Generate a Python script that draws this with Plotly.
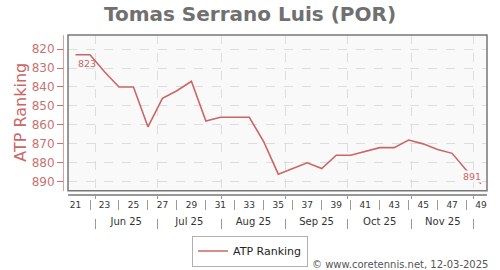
import plotly.graph_objects as go
import pandas as pd

# ---- data ----
weeks = list(range(21, 50))
ranks = [823, 823, 832, 840, 840, 861, 846, 842, 837, 858, 856, 856, 856, 869, 886,
         883, 880, 883, 876, 876, 874, 872, 872, 868, 870, 873, 875, 884, 891]
week_labels = [str(w) for w in range(21, 50, 2)]
week_label_vals = list(range(21, 50, 2))
week_sep_vals = list(range(22, 49, 2))
month_starts = ["2025-06-01", "2025-07-01", "2025-08-01", "2025-09-01",
                "2025-10-01", "2025-11-01", "2025-12-01"]
month_labels = ["Jun 25", "Jul 25", "Aug 25", "Sep 25", "Oct 25", "Nov 25"]
series_name = "ATP Ranking"
title = "Tomas Serrano Luis (POR)"
credit = "© www.coretennis.net, 12-03-2025"

# week position of a calendar date (week 21 of 2025 starts Mon 2025-05-19)
w21 = pd.Timestamp("2025-05-19")
month_pos = [21 + (pd.Timestamp(d) - w21).days / 7 - 0.5 for d in month_starts]
month_mid = [(a + b) / 2 for a, b in zip(month_pos[:-1], month_pos[1:])]

W, H = 500, 270
px = lambda v: v / W
py = lambda v: 1 - v / H

ROSE = "#cc6666"
TICKROSE = "#c97272"
FONT = "DejaVu Sans"
XR = [20.48, 49.41]
YR = [894.7, 812.6]
xdom = [px(68), px(487)]
ydom = [py(190.7), py(35)]

fig = go.Figure()
fig.add_trace(go.Scatter(x=weeks, y=ranks, mode="lines", name=series_name,
                         line=dict(color=ROSE, width=1.6), xaxis="x", yaxis="y"))
# invisible carriers so the secondary label axes get drawn
for ax in ("x2", "x3", "x4", "x5"):
    fig.add_trace(go.Scatter(x=weeks[:1], y=ranks[:1], mode="markers", xaxis=ax, yaxis="y",
                             marker=dict(opacity=0), showlegend=False, hoverinfo="skip"))

label_axis = dict(domain=xdom, range=XR, overlaying="x", anchor="free", ticks="",
                  tickfont=dict(size=9, color="#333"), showgrid=False, showline=False, zeroline=False)
sep_axis = dict(domain=xdom, range=XR, overlaying="x", anchor="free", ticks="outside", ticklen=10,
                tickcolor="#999", showticklabels=False, showgrid=False, showline=False, zeroline=False)

fig.update_layout(
    width=W, height=H, margin=dict(l=0, r=0, t=0, b=0),
    paper_bgcolor="white", plot_bgcolor="#f9f9f9",
    font=dict(family=FONT),
    title=dict(text="<b>" + title + "</b>", x=0.5, xanchor="center", y=py(14), yanchor="middle",
               font=dict(family=FONT, size=20, color="#707070")),
    showlegend=True,
    legend=dict(orientation="h", x=0.5, xanchor="center", y=py(235.5), yanchor="top",
                bordercolor="#b0b0b0", borderwidth=1, font=dict(size=11, color="#222"),
                bgcolor="white", itemwidth=30),
    xaxis=dict(domain=xdom, range=XR, anchor="free", position=py(195),
               tickvals=month_pos, ticks="outside", ticklen=3, tickcolor="#999",
               showticklabels=False, showline=True, linecolor="#999", linewidth=1.5,
               showgrid=True, gridcolor="#dddddd", griddash="dash", gridwidth=1,
               zeroline=False),
    xaxis2=dict(label_axis, position=py(198), tickvals=week_label_vals, ticktext=week_labels),
    xaxis4=dict(sep_axis, position=py(199), tickvals=week_sep_vals),
    xaxis3=dict(label_axis, position=py(214), tickvals=month_mid, ticktext=month_labels,
                tickfont=dict(size=10, color="#333")),
    xaxis5=dict(sep_axis, position=py(217.7), tickvals=month_pos),
    yaxis=dict(domain=ydom, range=YR, anchor="free", position=px(63),
               tickvals=list(range(820, 891, 10)), ticks="outside", ticklen=6, tickcolor=TICKROSE,
               tickfont=dict(size=12, color=TICKROSE), showline=True, linecolor="#dba0a0", linewidth=1,
               showgrid=True, gridcolor="#dddddd", griddash="dash", gridwidth=1, zeroline=False),
)

# plot frame
fig.add_shape(type="rect", xref="paper", yref="paper", x0=xdom[0], x1=xdom[1], y0=ydom[0], y1=ydom[1],
              line=dict(color="#777777", width=1.5), layer="above")

# y-axis title
fig.add_annotation(text=series_name, textangle=-90, xref="paper", yref="paper",
                   x=px(21), y=py(112.7), xanchor="center", yanchor="middle", showarrow=False,
                   font=dict(size=16, color=ROSE, family=FONT))
# first / last value labels
fig.add_annotation(text=str(ranks[0]), x=weeks[0], y=ranks[0], xref="x", yref="y",
                   xanchor="left", yanchor="top", showarrow=False, yshift=-1,
                   font=dict(size=9.5, color=ROSE))
fig.add_annotation(text=str(ranks[-1]), x=weeks[-1], y=ranks[-1], xref="x", yref="y",
                   xanchor="right", yanchor="bottom", showarrow=False, bgcolor="#f9f9f9",
                   xshift=1, yshift=1, borderpad=0,
                   font=dict(size=9.5, color=ROSE))
# credit
fig.add_annotation(text=credit, xref="paper", yref="paper", x=px(490), y=py(264),
                   xanchor="right", yanchor="middle", showarrow=False,
                   font=dict(size=10, color="#555"))

fig.write_html("out.html")
